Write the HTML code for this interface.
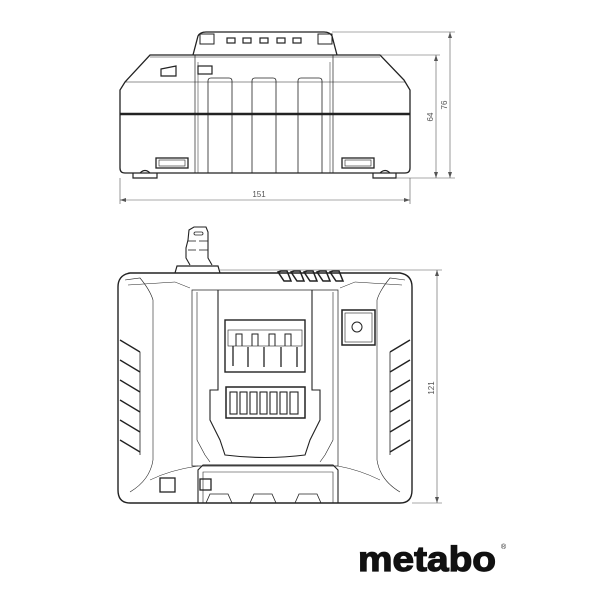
<!DOCTYPE html>
<html><head><style>html,body{margin:0;padding:0;background:#fff}svg{display:block}</style></head>
<body>
<svg width="600" height="600" viewBox="0 0 600 600" xmlns="http://www.w3.org/2000/svg" fill="none" stroke="#222" stroke-width="1" font-family="Liberation Sans, sans-serif">
<!-- TOP VIEW -->
<path d="M193 55 L198 36 Q200 32 206 32 L324 32 Q330 32 332 36 L337 55" stroke-width="1.3"/>
<rect x="200" y="34" width="14" height="10"/><rect x="318" y="34" width="14" height="10"/>
<g stroke-width="1.2"><rect x="227" y="38" width="8" height="5"/><rect x="243" y="38" width="8" height="5"/><rect x="260" y="38" width="8" height="5"/><rect x="277" y="38" width="8" height="5"/><rect x="293" y="38" width="8" height="5"/></g>
<path d="M150 55 L380 55 L404 80 L410 90 L410 168 Q410 173 405 173 L125 173 Q120 173 120 168 L120 90 L125 82 Z" stroke-width="1.3"/>
<line x1="150" y1="57" x2="380" y2="57" stroke-width="0.6"/>
<line x1="120" y1="114" x2="410" y2="114" stroke-width="2.5"/>
<line x1="195" y1="55" x2="195" y2="173" stroke-width="0.7"/><line x1="198" y1="62" x2="198" y2="173" stroke-width="0.5"/>
<line x1="333" y1="55" x2="333" y2="173" stroke-width="0.7"/><line x1="330" y1="62" x2="330" y2="173" stroke-width="0.5"/>
<line x1="125" y1="82" x2="405" y2="82" stroke-width="0.5"/>
<g stroke-width="0.8">
<path d="M208 173 L208 81 Q208 78 211 78 L229 78 Q232 78 232 81 L232 173"/>
<path d="M252 173 L252 81 Q252 78 255 78 L273 78 Q276 78 276 81 L276 173"/>
<path d="M298 173 L298 81 Q298 78 301 78 L319 78 Q322 78 322 81 L322 173"/>
</g>
<path d="M161 69 L176 66 L176 76 L161 76 Z" stroke-width="1.2"/>
<rect x="198" y="66" width="14" height="8" stroke-width="1.2"/>
<rect x="156" y="158" width="32" height="10" stroke-width="1.3"/><rect x="159" y="160" width="26" height="6" stroke-width="0.6"/>
<rect x="342" y="158" width="32" height="10" stroke-width="1.3"/><rect x="345" y="160" width="26" height="6" stroke-width="0.6"/>
<path d="M133 173 L133 178 L157 178 L157 173 M140 173 Q145 168 150 173" stroke-width="1.2"/>
<path d="M373 173 L373 178 L396 178 L396 173 M380 173 Q385 168 390 173" stroke-width="1.2"/>
<!-- dims top -->
<g stroke="#555" stroke-width="0.6">
<line x1="332" y1="32" x2="455" y2="32"/><line x1="450" y1="32" x2="450" y2="178"/>
<line x1="380" y1="55" x2="440" y2="55"/><line x1="436" y1="55" x2="436" y2="178"/>
<line x1="396" y1="178" x2="455" y2="178"/>
<line x1="120" y1="178" x2="120" y2="204"/><line x1="410" y1="178" x2="410" y2="204"/>
<line x1="120" y1="200" x2="410" y2="200"/>
</g>
<g fill="#555" stroke="none">
<path d="M450 32 l-2 6 h4z M450 178 l-2 -6 h4z M436 55 l-2 6 h4z M436 178 l-2 -6 h4z M120 200 l6 -2 v4z M410 200 l-6 -2 v4z"/>
<text x="259" y="197" font-size="8" text-anchor="middle">151</text>
<text transform="translate(447 105) rotate(-90)" font-size="8" text-anchor="middle">76</text>
<text transform="translate(433 117) rotate(-90)" font-size="8" text-anchor="middle">64</text>
<text transform="translate(434 388) rotate(-90)" font-size="8" text-anchor="middle">121</text>
</g>
<!-- BOTTOM VIEW -->
<path d="M190 265 L186 258 L186 248 L188 240 L189 230 L194 227 L206 227 L208 232 L208 258 L212 265" stroke-width="1.1"/>
<g stroke-width="0.8"><rect x="194" y="232" width="9" height="3" rx="1.5"/><line x1="188" y1="241" x2="196" y2="241"/><line x1="199" y1="241" x2="208" y2="241"/><line x1="188" y1="250" x2="196" y2="250"/><line x1="199" y1="250" x2="208" y2="250"/></g>
<path d="M175 273 L177 266 L218 266 L220 273" stroke-width="1.2"/>
<path d="M130 273 L400 273 Q412 275 412 287 L412 490 Q412 503 400 503 L130 503 Q118 503 118 490 L118 287 Q118 275 130 273 Z" stroke-width="1.4"/>
<path d="M125 280 L140 278 Q150 290 153 300 L153 460 Q150 480 130 492" stroke-width="0.6"/>
<path d="M405 280 L390 278 Q380 290 377 300 L377 460 Q380 480 400 492" stroke-width="0.6"/>
<path d="M128 285 L175 282 L190 288" stroke-width="0.5"/><path d="M402 285 L355 282 L340 288" stroke-width="0.5"/>
<path d="M150 480 Q170 470 198 466 M380 480 Q360 470 338 466" stroke-width="0.5"/>
<g stroke-width="1.5">
<path d="M278 272 l3 -1 h6 l4 10 h-7z"/><path d="M291 272 l3 -1 h6 l4 10 h-7z"/><path d="M304 272 l3 -1 h6 l4 10 h-7z"/><path d="M317 272 l3 -1 h6 l4 10 h-7z"/><path d="M330 272 l3 -1 h6 l4 10 h-7z"/>
</g>
<g stroke-width="1.4">
<path d="M120 340 L140 352 M120 360 L140 372 M120 380 L140 392 M120 400 L140 412 M120 420 L140 432 M120 440 L140 452"/>
<path d="M410 340 L390 352 M410 360 L390 372 M410 380 L390 392 M410 400 L390 412 M410 420 L390 432 M410 440 L390 452"/>
<path d="M140 352 L140 455 M390 352 L390 455" stroke-width="0.8"/>
</g>
<path d="M192 290 L338 290 L338 466 L192 466 Z" stroke-width="0.7"/>
<path d="M197 292 L197 440 L205 455 L210 462" stroke-width="0.6"/><path d="M333 292 L333 440 L325 455 L320 462" stroke-width="0.6"/>
<path d="M218 290 L218 390 L210 390 L210 420 L220 440 L225 455 Q265 460 305 455 L310 440 L320 420 L320 390 L312 390 L312 290" stroke-width="1.1"/>
<rect x="225" y="320" width="80" height="52" stroke-width="1.4"/>
<rect x="228" y="330" width="74" height="16" stroke-width="0.6"/>
<g stroke-width="1"><path d="M236 346 v-12 h6 v12 M252 346 v-12 h6 v12 M269 346 v-12 h6 v12 M285 346 v-12 h6 v12"/></g>
<g stroke-width="1.3"><path d="M233 346 v20 M248 347 v20 M264 347 v20 M281 347 v20 M297 347 v20"/></g>
<rect x="226" y="387" width="79" height="31" stroke-width="1.5"/>
<g stroke-width="1.1"><rect x="230" y="392" width="7" height="22"/><rect x="240" y="392" width="7" height="22"/><rect x="250" y="392" width="7" height="22"/><rect x="260" y="392" width="7" height="22"/><rect x="270" y="392" width="7" height="22"/><rect x="280" y="392" width="7" height="22"/><rect x="290" y="392" width="8" height="22"/></g>
<rect x="342" y="310" width="33" height="35" stroke-width="1.5"/><rect x="345" y="313" width="27" height="29" stroke-width="0.6"/>
<circle cx="357" cy="327" r="5" stroke-width="1"/>
<path d="M198 503 L198 470 L203 465 L333 465 L338 470 L338 503" stroke-width="1.1"/>
<path d="M203 503 L203 472 L333 472 L333 503" stroke-width="0.6"/>
<path d="M206 503 L210 494 L228 494 L232 503 M250 503 L254 494 L272 494 L276 503 M295 503 L299 494 L317 494 L321 503" stroke-width="0.8"/>
<rect x="160" y="478" width="15" height="14" stroke-width="1.3"/>
<rect x="200" y="479" width="11" height="11" stroke-width="1.3"/>
<g stroke="#555" stroke-width="0.6"><line x1="220" y1="270" x2="442" y2="270"/><line x1="412" y1="503" x2="442" y2="503"/><line x1="437" y1="270" x2="437" y2="503"/></g>
<path d="M437 270 l-2 6 h4z M437 503 l-2 -6 h4z" fill="#555" stroke="none"/>
<!-- logo -->
<text x="358" y="571" font-size="35" font-weight="bold" font-family="Liberation Sans, sans-serif" fill="#111" stroke="#111" stroke-width="1.2" textLength="138" lengthAdjust="spacingAndGlyphs">metabo</text>
<text x="501" y="549" font-size="7" fill="#111" stroke="none">®</text>
</svg>
</body></html>
